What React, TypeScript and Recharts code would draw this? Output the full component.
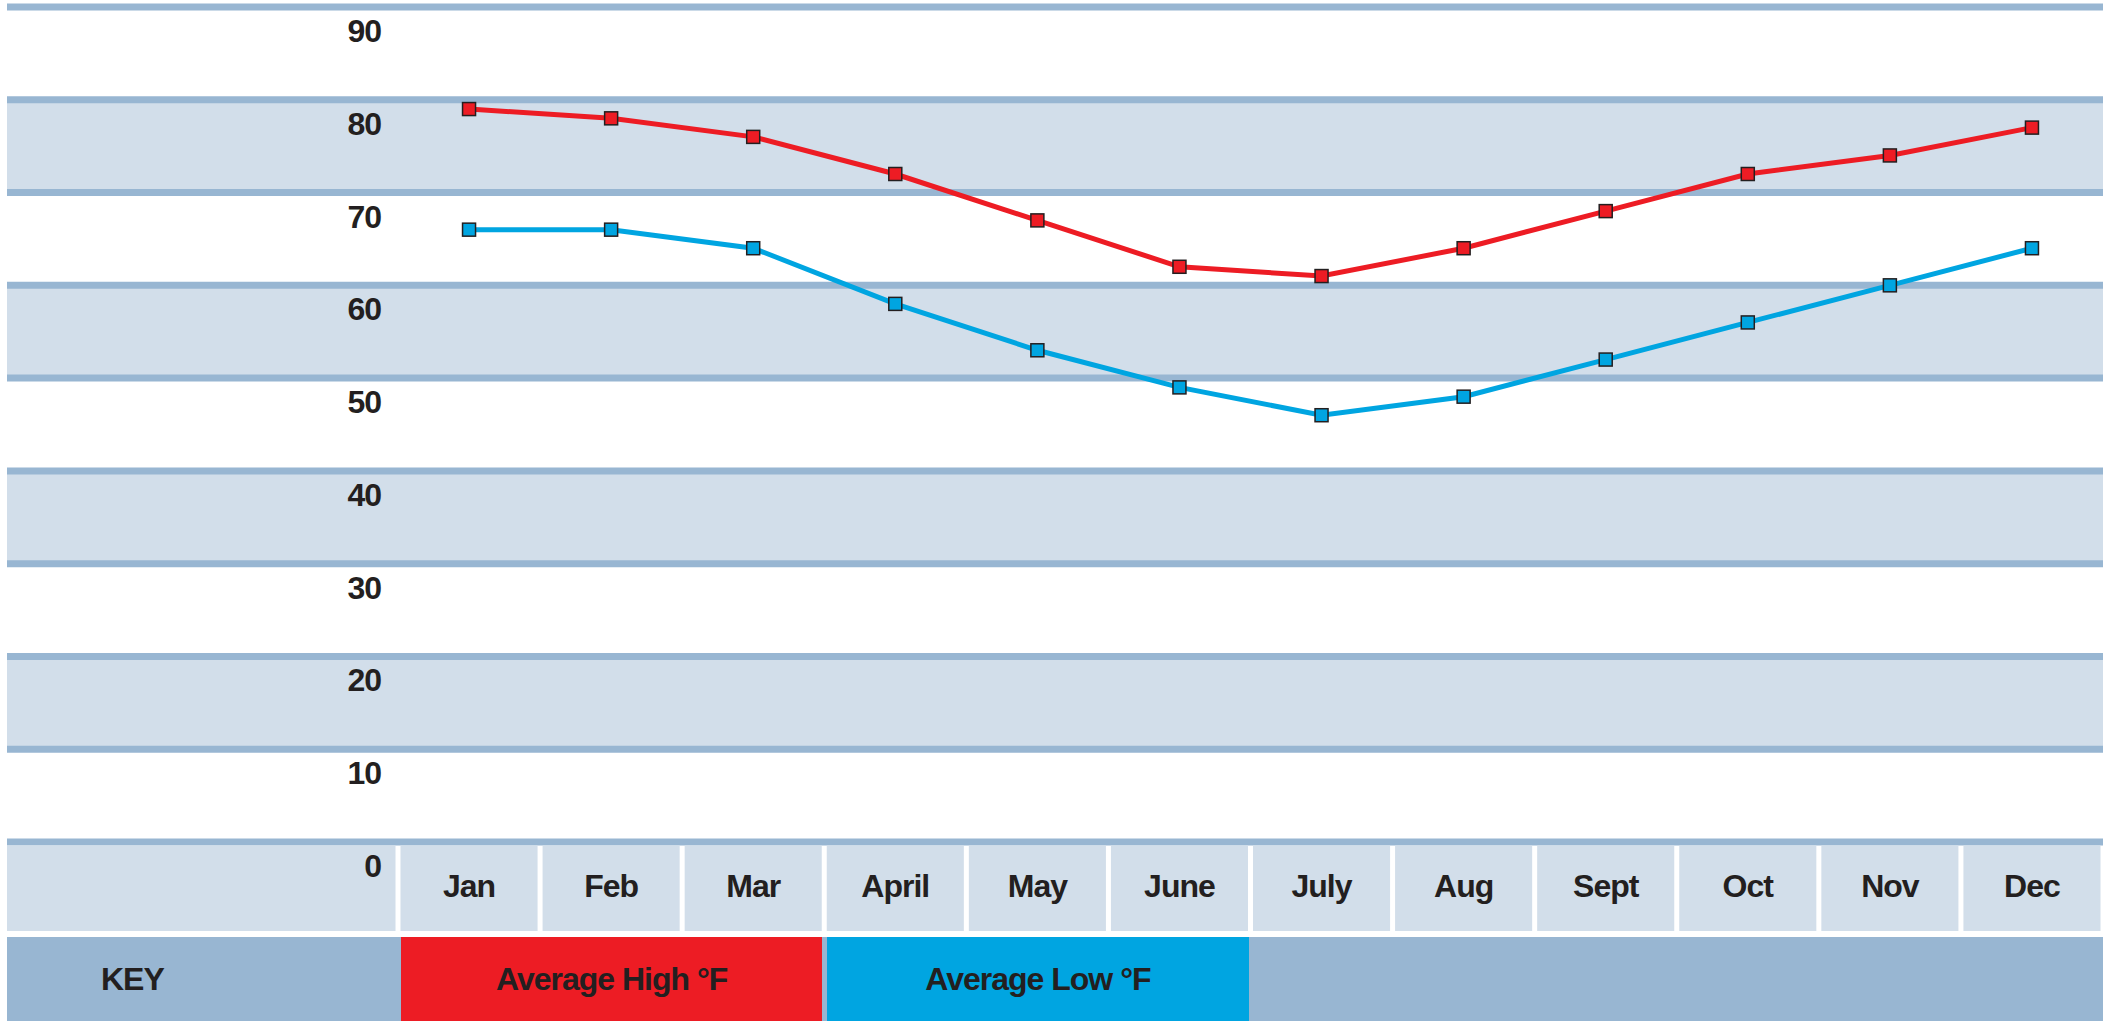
import React from 'react';
import { LineChart, Line, XAxis, YAxis, CartesianGrid, Legend } from 'recharts';

// valores
const months = ['Jan', 'Feb', 'Mar', 'April', 'May', 'June', 'July', 'Aug', 'Sept', 'Oct', 'Nov', 'Dec'];
const avgHigh = [79, 78, 76, 72, 67, 62, 61, 64, 68, 72, 74, 77];
const avgLow = [66, 66, 64, 58, 53, 49, 46, 48, 52, 56, 60, 64];
const yTicks = [0, 10, 20, 30, 40, 50, 60, 70, 80, 90];

const RED = '#ED1C24';
const BLUE = '#00A5E1';
const GRID = '#98B6D2';
const BAND = '#D2DEEA';
const INK = '#231F20';
const FONT = "'Liberation Sans', Arial, Helvetica, sans-serif";

const W = 2109;
const H = 1021;
const LEFT = 398;
const RIGHT = 6;
const TOP = 7;
const AXIS_H = 95;
const KEY_H = 84;
const BAND_W = (W - LEFT - RIGHT) / months.length;
const CELL_BOTTOM = H - KEY_H - 6;

const data = months.map((m, i) => ({ month: m, high: avgHigh[i], low: avgLow[i] }));

const textStyle = { fontFamily: FONT, fontWeight: 700, fontSize: 32, letterSpacing: -1, fill: INK };

function SquareDot(props: any) {
    const { cx, cy, color } = props;
    if (cx == null || cy == null) return null;
    return <rect x={cx - 6.5} y={cy - 6.5} width={13} height={13} fill={color} stroke={INK} strokeWidth={1.5} />;
}

function YTick(props: any) {
    const { x, y, payload } = props;
    return (
        <g>
            {payload.value === 0 && (
                <rect x={7} y={y + 3.5} width={LEFT - 2.5 - 7} height={CELL_BOTTOM - y - 3.5} fill={BAND} />
            )}
            <text x={x} y={y + 35} textAnchor="end" style={textStyle}>{payload.value}</text>
        </g>
    );
}

function MonthTick(props: any) {
    const { x, y, payload } = props;
    return (
        <g>
            <rect x={x - BAND_W / 2 + 2.5} y={y + 3.5} width={BAND_W - 5} height={CELL_BOTTOM - y - 3.5} fill={BAND} />
            <text x={x} y={y + 55} textAnchor="middle" style={textStyle}>{payload.value}</text>
        </g>
    );
}

function KeyRow(props: any) {
    const { payload = [] } = props;
    return (
        <div style={{
            display: 'flex', marginLeft: 7, width: W - RIGHT - 7, height: KEY_H, background: GRID,
            fontFamily: FONT, fontWeight: 700, fontSize: 32, letterSpacing: -1, color: INK, lineHeight: KEY_H + 'px',
        }}>
            <div style={{ width: LEFT + 3 - 7, paddingLeft: 94, boxSizing: 'border-box' }}>KEY</div>
            {payload.map((e: any, i: number) => (
                <div key={e.value} style={{ width: BAND_W * 3 - 5, marginLeft: i ? 5 : 0, background: e.color, textAlign: 'center' }}>
                    {e.value}
                </div>
            ))}
        </div>
    );
}

export default function App() {
    return (
        <div style={{ position: 'absolute', left: 0, top: 0, width: W, height: H, background: '#fff' }}>
            <LineChart width={W} height={H} data={data} margin={{ top: TOP, right: RIGHT, bottom: 0, left: 0 }}>
                <CartesianGrid
                    x={7}
                    width={W - RIGHT - 7}
                    vertical={false}
                    stroke={GRID}
                    strokeWidth={7}
                    strokeOpacity={1}
                    horizontalFill={['#FFFFFF', BAND]}
                    fillOpacity={1}
                />
                <XAxis
                    dataKey="month"
                    interval={0}
                    padding={{ left: BAND_W / 2, right: BAND_W / 2 }}
                    axisLine={false}
                    tickLine={false}
                    tickSize={0}
                    tickMargin={0}
                    height={AXIS_H}
                    tick={<MonthTick />}
                />
                <YAxis
                    domain={[0, 90]}
                    ticks={yTicks}
                    interval={0}
                    width={LEFT}
                    axisLine={false}
                    tickLine={false}
                    tickSize={0}
                    tickMargin={17}
                    tick={<YTick />}
                />
                <Legend verticalAlign="bottom" content={<KeyRow />} wrapperStyle={{ left: 0, bottom: 0 }} />
                <Line
                    type="linear"
                    dataKey="high"
                    name="Average High °F"
                    stroke={RED}
                    strokeWidth={5}
                    dot={(p: any) => <SquareDot key={'h' + p.index} {...p} color={RED} />}
                    activeDot={false}
                    isAnimationActive={false}
                />
                <Line
                    type="linear"
                    dataKey="low"
                    name="Average Low °F"
                    stroke={BLUE}
                    strokeWidth={5}
                    dot={(p: any) => <SquareDot key={'l' + p.index} {...p} color={BLUE} />}
                    activeDot={false}
                    isAnimationActive={false}
                />
            </LineChart>
        </div>
    );
}
